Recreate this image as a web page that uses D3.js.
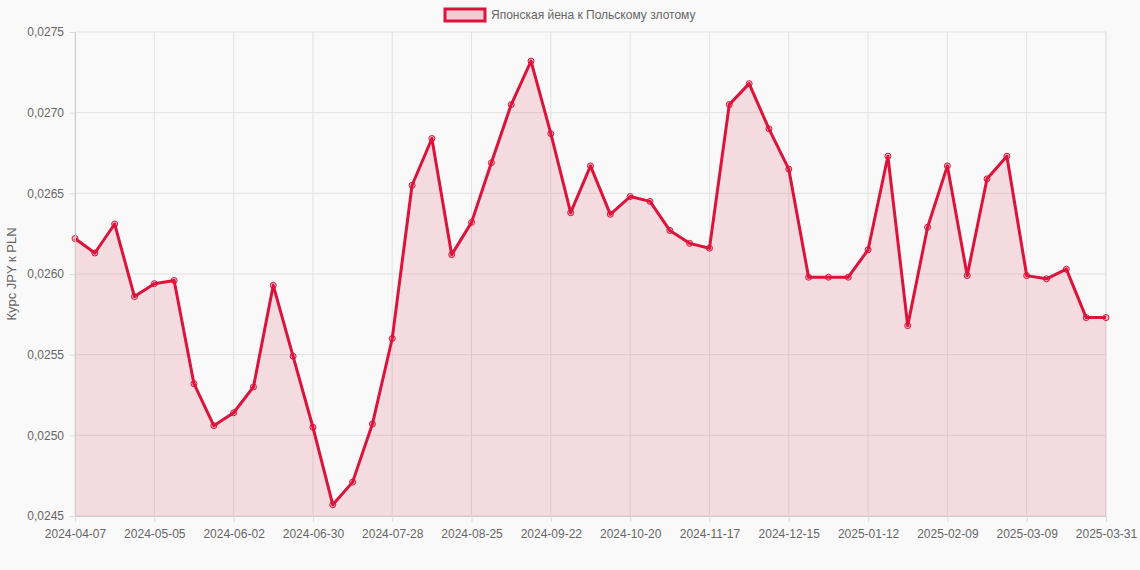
<!DOCTYPE html>
<html><head><meta charset="utf-8">
<script src="https://cdn.jsdelivr.net/npm/d3@7"></script>
<style>body{margin:0;background:#f9f9f9;font-family:"Liberation Sans",Arial,sans-serif}</style>
</head><body><svg id="c" width="1140" height="570"></svg>
<script>
const dates=["2024-04-07","2024-04-14","2024-04-21","2024-04-28","2024-05-05","2024-05-12","2024-05-19","2024-05-26","2024-06-02","2024-06-09","2024-06-16","2024-06-23","2024-06-30","2024-07-07","2024-07-14","2024-07-21","2024-07-28","2024-08-04","2024-08-11","2024-08-18","2024-08-25","2024-09-01","2024-09-08","2024-09-15","2024-09-22","2024-09-29","2024-10-06","2024-10-13","2024-10-20","2024-10-27","2024-11-03","2024-11-10","2024-11-17","2024-11-24","2024-12-01","2024-12-08","2024-12-15","2024-12-22","2024-12-29","2025-01-05","2025-01-12","2025-01-19","2025-01-26","2025-02-02","2025-02-09","2025-02-16","2025-02-23","2025-03-02","2025-03-09","2025-03-16","2025-03-23","2025-03-30","2025-03-31"];
const values=[0.02622,0.02613,0.02631,0.02586,0.02594,0.02596,0.02532,0.02506,0.02514,0.02530,0.02593,0.02549,0.02505,0.02457,0.02471,0.02507,0.02560,0.02655,0.02684,0.02612,0.02632,0.02669,0.02705,0.02732,0.02687,0.02638,0.02667,0.02637,0.02648,0.02645,0.02627,0.02619,0.02616,0.02705,0.02718,0.02690,0.02665,0.02598,0.02598,0.02598,0.02615,0.02673,0.02568,0.02629,0.02667,0.02599,0.02659,0.02673,0.02599,0.02597,0.02603,0.02573,0.02573];
const yTicks=[0.0245,0.0250,0.0255,0.0260,0.0265,0.0270,0.0275];
const xTickLabels=["2024-04-07","2024-05-05","2024-06-02","2024-06-30","2024-07-28","2024-08-25","2024-09-22","2024-10-20","2024-11-17","2024-12-15","2025-01-12","2025-02-09","2025-03-09","2025-03-31"];
const seriesName="Японская йена к Польскому злотому";
const color="#dc143c";
const svg=d3.select("#c");
const L=75,R=1106,T=32,B=516;
const x=d3.scalePoint().domain(dates).range([L,R]);
const y=d3.scaleLinear().domain([0.0245,0.0275]).range([B,T]);
const g=svg.append("g");
g.selectAll(".hy").data(yTicks).join("line").attr("x1",L).attr("x2",R).attr("y1",d=>y(d)).attr("y2",d=>y(d)).attr("stroke","#e2e2e2");
g.selectAll(".vx").data(dates.filter((d,i)=>i%4===0).concat([dates[dates.length-1]])).join("line").attr("x1",d=>x(d)).attr("x2",d=>x(d)).attr("y1",T).attr("y2",B).attr("stroke","#e2e2e2");
const data=dates.map((d,i)=>[d,values[i]]);
g.append("path").datum(data).attr("d",d3.area().x(d=>x(d[0])).y0(B).y1(d=>y(d[1]))).attr("fill","rgba(220,20,60,0.13)");
g.append("path").datum(data).attr("d",d3.line().x(d=>x(d[0])).y(d=>y(d[1]))).attr("fill","none").attr("stroke",color).attr("stroke-width",3).attr("stroke-linejoin","round");
g.selectAll(".pt").data(data).join("circle").attr("cx",d=>x(d[0])).attr("cy",d=>y(d[1])).attr("r",3).attr("fill","rgba(220,20,60,0.25)").attr("stroke",color).attr("stroke-width",1);
const fmt=d=>d3.format(".4f")(d).replace(".",",");
const ya=svg.append("g").attr("transform",`translate(${L},0)`).call(d3.axisLeft(y).tickValues(yTicks).tickFormat(fmt).tickSize(6));
const xa=svg.append("g").attr("transform",`translate(0,${B})`).call(d3.axisBottom(x).tickValues(xTickLabels).tickSize(6));
[ya,xa].forEach(a=>{a.select(".domain").attr("stroke","#ccc");a.selectAll(".tick line").attr("stroke","#ddd");a.selectAll("text").attr("fill","#666").style("font-size","12px").style("font-family","'Liberation Sans',Arial,sans-serif");});
ya.selectAll("text").attr("dx","-2");
xa.selectAll("text").attr("dy","1.05em");
svg.append("text").attr("transform","translate(16,274) rotate(-90)").attr("text-anchor","middle").attr("fill","#666").style("font-size","13px").text("Курс JPY к PLN");
svg.append("rect").attr("x",445).attr("y",9).attr("width",40).attr("height",12).attr("fill","rgba(220,20,60,0.2)").attr("stroke",color).attr("stroke-width",3);
svg.append("text").attr("x",491).attr("y",19).attr("fill","#666").style("font-size","12px").text(seriesName);
</script></body></html>
